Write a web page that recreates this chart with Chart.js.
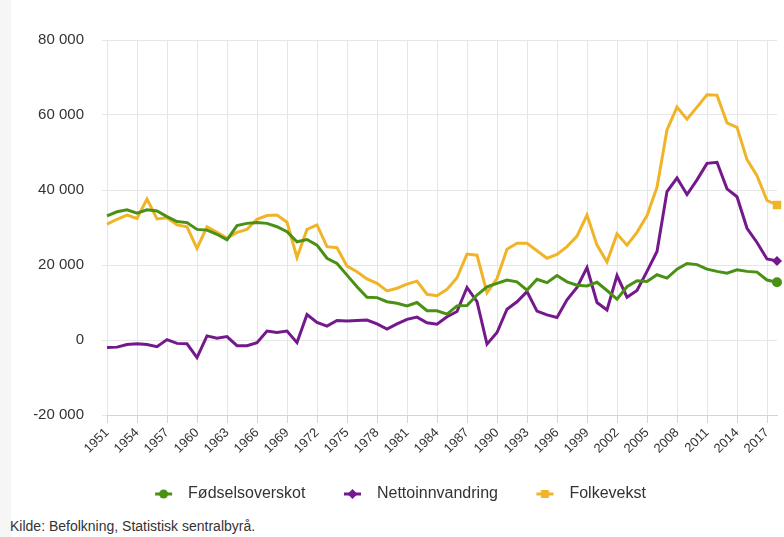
<!DOCTYPE html>
<html>
<head>
<meta charset="utf-8">
<script src="https://cdn.jsdelivr.net/npm/chart.js@4"></script>
<style>
  body { margin: 0; background: #fff; font-family: "Liberation Sans", Arial, sans-serif; }
  #strip { position: absolute; left: 0; top: 0; width: 11px; height: 537px; background: #f6f6f6; }
  #wrap { position: absolute; left: 0; top: 0; width: 784px; height: 512px; }
  #kilde { position: absolute; left: 10px; top: 518px; font-size: 14px; color: #333; }
</style>
</head>
<body>
<div id="strip"></div>
<div id="wrap"><canvas id="chart"></canvas></div>
<div id="kilde">Kilde: Befolkning, Statistisk sentralbyrå.</div>
<script>
// år 1951-2018
const years = [];
for (let y = 1951; y <= 2018; y++) years.push(String(y));

const fodselsoverskot = [
  33100, 34200, 34700, 33800, 34700, 34400, 32900, 31600, 31300, 29500,
  29300, 28200, 26700, 30500, 31100, 31300, 31100, 30200, 28900, 26200,
  26800, 25300, 21800, 20400, 17300, 14200, 11400, 11300, 10200, 9800,
  9100, 10000, 7800, 7800, 6900, 9100, 9200, 12000, 14200, 15100,
  16000, 15500, 13300, 16200, 15300, 17200, 15500, 14600, 14400, 15400,
  13200, 10900, 14200, 15800, 15600, 17400, 16500, 18900, 20400, 20100,
  18900, 18300, 17800, 18700, 18300, 18100, 16000, 15400
];
const nettoinnvandring = [
  -2000, -1900, -1200, -1000, -1200, -1800, 100, -900, -1000, -4700,
  1100, 500, 900, -1500, -1500, -700, 2400, 2000, 2400, -700,
  6800, 4700, 3700, 5200, 5100, 5200, 5300, 4300, 2900, 4300,
  5500, 6100, 4600, 4200, 6200, 7600, 14000, 10200, -1100, 2000,
  8200, 10200, 12900, 7700, 6700, 6000, 10700, 14000, 19300, 10000,
  8000, 17200, 11400, 13200, 18300, 23600, 39600, 43200, 38800, 42700,
  47100, 47400, 40300, 38200, 29800, 26000, 21600, 21100
];
const folkevekst = [
  30900, 32200, 33300, 32400, 37600, 32300, 32600, 30700, 30200, 24400,
  30200, 28700, 27100, 28700, 29500, 32200, 33200, 33300, 31400, 22000,
  29500, 30700, 24900, 24600, 19700, 18200, 16300, 15100, 13100, 13800,
  14900, 15700, 12200, 11800, 13500, 16600, 22900, 22600, 12600, 16400,
  24200, 25800, 25800, 23800, 21800, 22800, 24900, 27700, 33300, 25300,
  20800, 28300, 25300, 28700, 33200, 40700, 56000, 62100, 58900, 62100,
  65400, 65300, 57900, 56700, 48100, 43800, 37200, 36000
];
const yTicks = [-20000, 0, 20000, 40000, 60000, 80000];

const green = '#4a9015';
const purple = '#74198c';
const yellow = '#f0b428';

function fmt(v) {
  const s = String(Math.abs(v)).replace(/\B(?=(\d{3})+(?!\d))/g, ' ');
  return (v < 0 ? '-' : '') + s;
}

// legend-symbol: linje med markør, luft til venstre
const BOX = 49;
function legendMarker(color, shape) {
  const c = document.createElement('canvas');
  c.width = BOX; c.height = 12;
  const g = c.getContext('2d');
  const x0 = BOX - 25, x1 = BOX - 8, cx = (x0 + x1) / 2, cy = 6;
  g.strokeStyle = color; g.fillStyle = color; g.lineWidth = 3;
  g.beginPath(); g.moveTo(x0, cy); g.lineTo(x1, cy); g.stroke();
  g.beginPath();
  if (shape === 'circle') g.arc(cx, cy, 4.5, 0, Math.PI * 2);
  if (shape === 'diamond') { g.moveTo(cx, cy - 5); g.lineTo(cx + 5, cy); g.lineTo(cx, cy + 5); g.lineTo(cx - 5, cy); g.closePath(); }
  if (shape === 'square') g.rect(cx - 4, cy - 4, 8, 8);
  g.fill();
  return c;
}

function lastOnly(r) {
  return years.map((_, i) => (i === years.length - 1 ? r : 0));
}

function series(label, data, color, style, r, shape) {
  return {
    label, data,
    borderColor: color, backgroundColor: color,
    borderWidth: 3, tension: 0, fill: false,
    pointStyle: style, pointRadius: lastOnly(r), pointHoverRadius: lastOnly(r),
    pointBorderWidth: 0,
    legendImg: legendMarker(color, shape)
  };
}

new Chart(document.getElementById('chart'), {
  type: 'line',
  data: {
    labels: years,
    datasets: [
      series('Fødselsoverskot', fodselsoverskot, green, 'circle', 5, 'circle'),
      series('Nettoinnvandring', nettoinnvandring, purple, 'rectRot', 5, 'diamond'),
      series('Folkevekst', folkevekst, yellow, 'rect', 6, 'square')
    ]
  },
  options: {
    responsive: true,
    maintainAspectRatio: false,
    animation: false,
    layout: { padding: { top: 40, right: 7, left: 0, bottom: 0 } },
    plugins: {
      tooltip: { enabled: false },
      legend: {
        position: 'bottom',
        labels: {
          usePointStyle: true,
          pointStyleWidth: BOX,
          padding: 14.5,
          color: '#333',
          font: { family: '"Liberation Sans", Arial, sans-serif', size: 16 },
          generateLabels: chart => chart.data.datasets.map((ds, i) => ({
            text: ds.label,
            pointStyle: ds.legendImg,
            fillStyle: ds.borderColor,
            strokeStyle: ds.borderColor,
            lineWidth: 0,
            hidden: false,
            datasetIndex: i,
            fontColor: '#333'
          }))
        }
      }
    },
    scales: {
      x: {
        afterFit: s => { s.height = 56.5; s.paddingRight = 0; },
        grid: {
          color: c => (c.index % 3 === 0 ? '#e6e6e6' : 'rgba(0,0,0,0)'),
          tickColor: c => (c.index % 3 === 0 ? '#ccd6eb' : 'rgba(0,0,0,0)'),
          tickLength: 8
        },
        border: { color: '#ccd6eb', width: 1 },
        ticks: {
          autoSkip: false,
          minRotation: 45, maxRotation: 45,
          padding: 2,
          color: '#333',
          font: { family: '"Liberation Sans", Arial, sans-serif', size: 13 },
          callback: (v, i) => (i % 3 === 0 ? years[i] : '')
        }
      },
      y: {
        min: -20000, max: 80000,
        afterBuildTicks: s => { s.ticks = yTicks.map(v => ({ value: v })); },
        afterFit: s => { s.width = 107; },
        grid: { color: '#e6e6e6', tickColor: '#e6e6e6', tickLength: 5 },
        border: { display: false },
        ticks: {
          padding: 18,
          color: '#333',
          font: { family: '"Liberation Sans", Arial, sans-serif', size: 15 },
          callback: v => fmt(v)
        }
      }
    }
  }
});
</script>
</body>
</html>
